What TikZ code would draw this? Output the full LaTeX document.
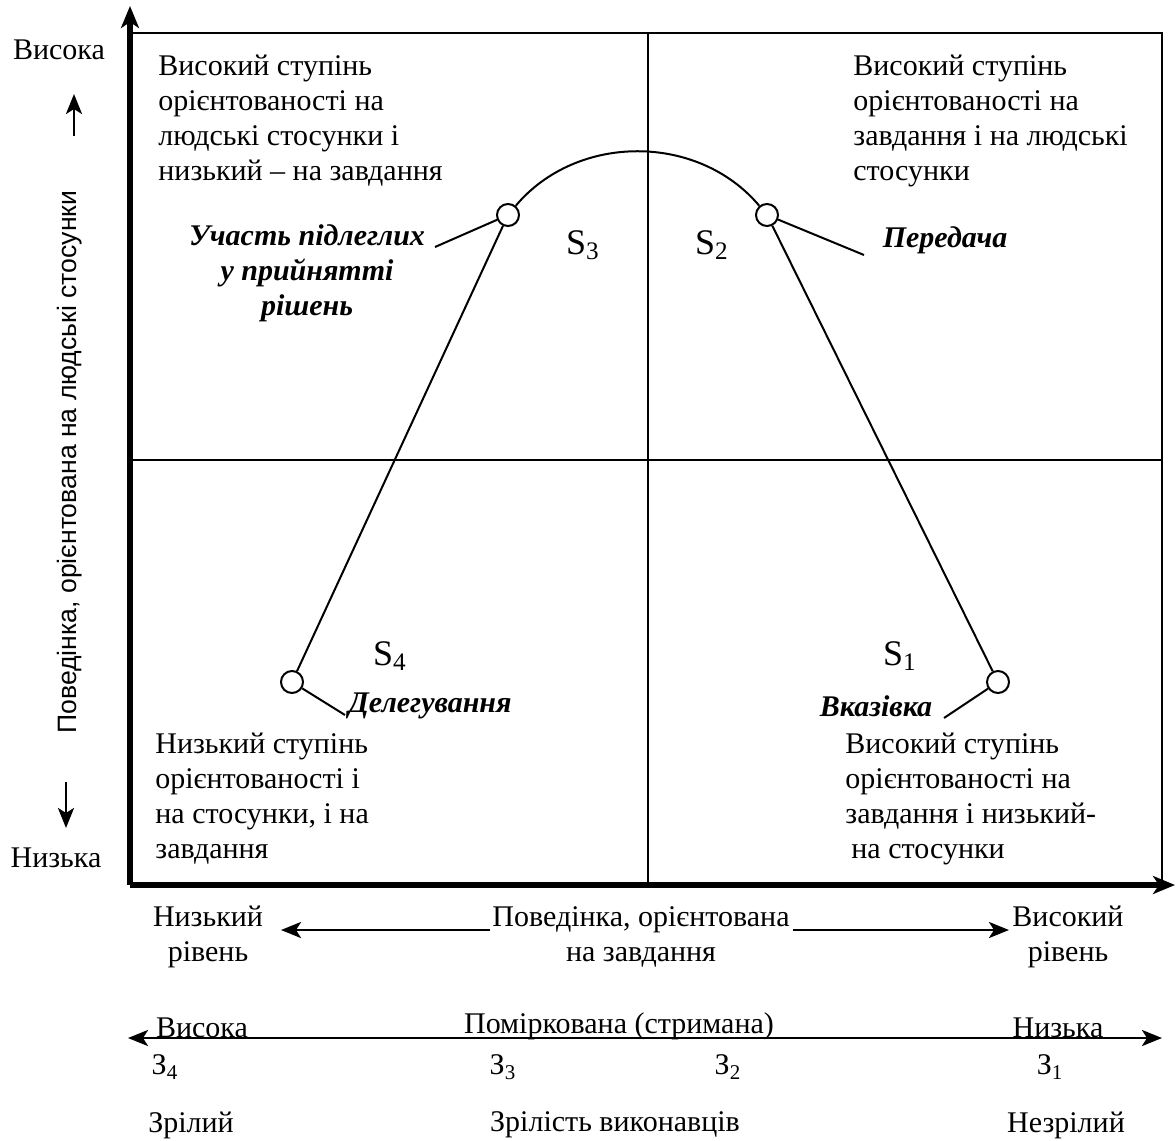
\documentclass[tikz,border=0pt]{standalone}
\usepackage{fontspec}
\setmainfont{Liberation Serif}
\newfontfamily\axisfont{Liberation Sans}
\usetikzlibrary{arrows.meta}

\begin{document}
\begin{tikzpicture}[x=0.5pt,y=-0.5pt]

      \useasboundingbox (0,0) rectangle (1176,1140);

      \coordinate (o)  at (130,885);
      \coordinate (yt) at (130,6);
      \coordinate (xt) at (1175,885);
      \coordinate (tl) at (130,33);
      \coordinate (tr) at (1162,33);
      \coordinate (br) at (1162,885);
      \coordinate (mt) at (648,33);
      \coordinate (mb) at (648,885);
      \coordinate (ml) at (130,460);
      \coordinate (mr) at (1162,460);

      \begin{scope}[line width=1pt]
        \draw (tl) -- (tr) -- (br);
        \draw[line width=.8pt] (mt) -- (mb);
        \draw[line width=.8pt] (ml) -- (mr);
      \end{scope}

      \begin{scope}[line width=2.6pt, -{Stealth[length=11pt,width=9pt,inset=3pt]}]
        \draw (o) -- (yt);
        \draw (o) -- (xt);
      \end{scope}

      \begin{scope}[every node/.style={circle,draw,line width=1pt,minimum size=11pt,inner sep=0pt,fill=white}]
        \node (s1) at (998,682) {};
        \node (s2) at (767,215) {};
        \node (s3) at (508,215) {};
        \node (s4) at (292,682) {};
      \end{scope}

      \coordinate (l1) at (944,718);
      \coordinate (l2) at (864,255);
      \coordinate (l3) at (435,247);
      \coordinate (l4) at (345,715);

      \begin{scope}[every edge/.style={draw,line width=1pt}]
        \path (s3) edge[bend left=50] (s2);
        \path (s3) edge (s4);
        \path (s2) edge (s1);
        \path (s1) edge (l1);
        \path (s2) edge (l2);
        \path (s3) edge (l3);
        \path (s4) edge (l4);
      \end{scope}

      % styles
      \begin{scope}[every node/.style={font=\fontsize{18}{20}\selectfont, inner sep=0pt}]
        \node (q1) at (900,656) {S\textsubscript{1}};
        \node (q2) at (712,245) {S\textsubscript{2}};
        \node (q3) at (583,245) {S\textsubscript{3}};
        \node (q4) at (390,656) {S\textsubscript{4}};
      \end{scope}

      \begin{scope}[every node/.style={font=\fontsize{15}{17.5}\selectfont, align=left, anchor=north west, inner sep=0pt}]
        \node (ntl) at (158,55)  {Високий ступінь\\орієнтованості на\\людські стосунки і\\низький – на завдання};
        \node (ntr) at (853,55)  {Високий ступінь\\орієнтованості на\\завдання і на людські\\стосунки};
        \node (nbl) at (155,733) {Низький ступінь\\орієнтованості і\\на стосунки, і на\\завдання};
        \node (nbr) at (845,733) {Високий ступінь\\орієнтованості на\\завдання і низький-\\\hspace*{3pt}на стосунки};
      \end{scope}

      \begin{scope}[every node/.style={font=\fontsize{15}{17.5}\selectfont\bfseries\itshape, align=center, inner sep=0pt}]
        \node[anchor=north] (part) at (307,224) {Участь підлеглих\\у прийнятті\\рішень};
        \node (pass) at (945,240) {Передача};
        \node (deleg) at (430,706) {Делегування};
        \node (instr) at (876,706) {Вказівка};
      \end{scope}

      \begin{scope}[every node/.style={font=\fontsize{15}{17.5}\selectfont, align=center, inner sep=0pt}]
        \node (yhi) at (59,50) {Висока};
        \node (ylo) at (56,858) {Низька};
        \node (xlo) at (208,937) {Низький\\рівень};
        \node (xmid) at (641,937) {Поведінка, орієнтована\\на завдання};
        \node (xhi) at (1068,937) {Високий\\рівень};
        \node (mhi) at (202,1028) {Висока};
        \node (mmid) at (619,1026) {Поміркована (стримана)};
        \node (mlo) at (1058,1028) {Низька};
        \node (z4) at (165,1067) {З\textsubscript{4}};
        \node (z3) at (503,1067) {З\textsubscript{3}};
        \node (z2) at (728,1067) {З\textsubscript{2}};
        \node (z1) at (1050,1067) {З\textsubscript{1}};
        \node (mat) at (191,1125) {Зрілий};
        \node (matx) at (615,1125) {Зрілість виконавців};
        \node (immat) at (1066,1125) {Незрілий};
      \end{scope}

      \node[rotate=90, font=\axisfont\fontsize{13.3}{15}\selectfont, inner sep=0pt] (ylab) at (70,462)
        {Поведінка, орієнтована на людські стосунки};

      \coordinate (ua) at (74,136);
      \coordinate (ub) at (74,94);
      \coordinate (da) at (66,782);
      \coordinate (db) at (66,828);
      \coordinate (al1) at (490,930);
      \coordinate (al2) at (281,930);
      \coordinate (ar1) at (793,930);
      \coordinate (ar2) at (1009,930);
      \coordinate (ml2) at (128,1038);
      \coordinate (mr2) at (1162,1038);

      \begin{scope}[line width=1.4pt, >={Stealth[length=10pt,width=8pt,inset=2.5pt]}]
        \draw[->] (ua) -- (ub);
        \draw[->] (da) -- (db);
        \draw[->] (al1) -- (al2);
        \draw[->] (ar1) -- (ar2);
        \draw[<->] (ml2) -- (mr2);
      \end{scope}

    \end{tikzpicture}
\end{document}
